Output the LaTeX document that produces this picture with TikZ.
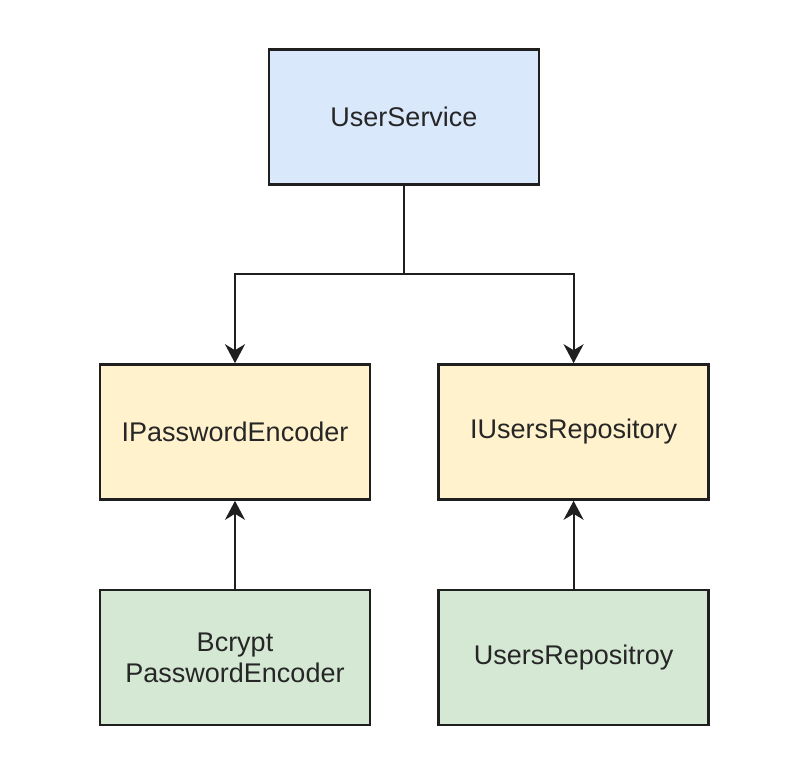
\documentclass[tikz,border=0pt]{standalone}
\usepackage{fontspec}
\setmainfont{Liberation Sans}
\usetikzlibrary{positioning,arrows.meta}
\definecolor{svcblue}{HTML}{DAE8FC}
\definecolor{ifyellow}{HTML}{FFF2CC}
\definecolor{implgreen}{HTML}{D5E8D4}
\definecolor{strokegray}{HTML}{1F1F1F}

\begin{document}
\begin{tikzpicture}[
  x=1pt, y=-1pt,
  >={Stealth[length=19pt, width=20pt, inset=6pt]},
  every node/.style={font=\fontsize{27}{31}\selectfont, text=black!85},
  box/.style={draw=strokegray, line width=2.6pt, minimum width=270pt,
              minimum height=135pt, align=center, inner sep=0pt},
  service/.style={box, fill=svcblue},
  iface/.style={box, fill=ifyellow},
  impl/.style={box, fill=implgreen},
  dep/.style={->, draw=strokegray, line width=2.2pt},
]
  \useasboundingbox (0,0) rectangle (800,772);

  \node[service] (us) at (404,117) {UserService};
  \node[iface] (ipe) at (235,432) {IPasswordEncoder};
  \node[iface, right=66pt of ipe] (iur) {IUsersRepository};
  \node[impl, below=88pt of ipe] (bpe) {Bcrypt\\PasswordEncoder};
  \node[impl, below=88pt of iur] (ur) {UsersRepositroy};

  % Dependencies
  \coordinate (fork) at (404,274);
  \draw[dep, -] (us.south) -- (fork);
  \draw[dep] (fork) -| (ipe.north);
  \draw[dep] (fork) -| (iur.north);

  % Implementations
  \draw[dep] (bpe.north) -- (ipe.south);
  \draw[dep] (ur.north) -- (iur.south);
\end{tikzpicture}
\end{document}
